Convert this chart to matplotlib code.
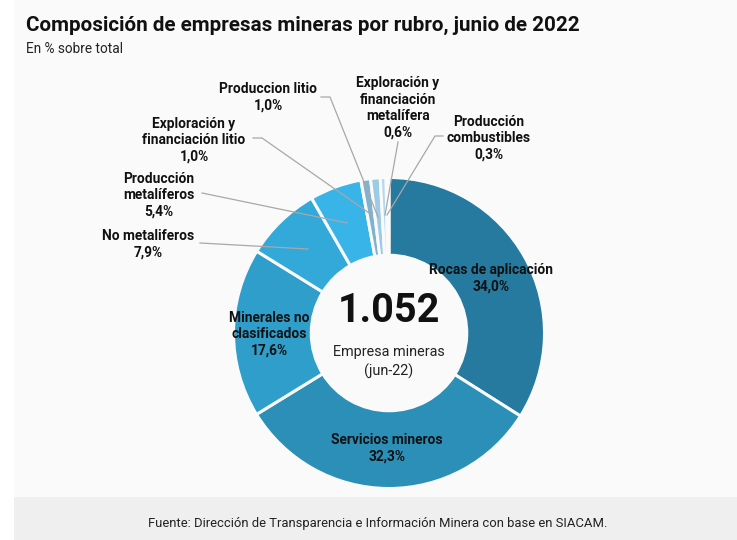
import matplotlib.pyplot as plt
from matplotlib.patches import Rectangle

plt.rcParams['font.family'] = ['Roboto', 'DejaVu Sans']

# ── Data ──
rubros = ['Rocas de aplicación', 'Servicios mineros', 'Minerales no\nclasificados',
          'No metaliferos', 'Producción\nmetalíferos', 'Produccion litio',
          'Exploración y\nfinanciación litio', 'Exploración y\nfinanciación\nmetalífera',
          'Producción\ncombustibles']
valores = [34.0, 32.3, 17.6, 7.9, 5.4, 1.0, 1.0, 0.6, 0.3]
etiquetas = ['34,0%', '32,3%', '17,6%', '7,9%', '5,4%', '1,0%', '1,0%', '0,6%', '0,3%']
colores = ['#26799f', '#2b8fb8', '#2f9ecb', '#33a9d9', '#38b4e8',
           '#7fb2d0', '#9ccbe6', '#b4d9ec', '#d3e8f2']

W, H = 737, 540
BG = '#fafafa'
DARK = '#111111'

fig = plt.figure(figsize=(W / 100, H / 100), dpi=100, facecolor='white')

# ── Background, pixel coords ──
bg = fig.add_axes([0, 0, 1, 1])
bg.set_xlim(0, W)
bg.set_ylim(H, 0)
bg.axis('off')
bg.add_patch(Rectangle((14, 0), W - 14, 497, color=BG, lw=0))
bg.add_patch(Rectangle((14, 497), W - 14, 43, color='#efefef', lw=0))

# ── Donut ──
cx, cy, r = 389, 333, 155.5
pie_ax = fig.add_axes([(cx - r) / W, (H - cy - r) / H, 2 * r / W, 2 * r / H])
pie_ax.pie(valores, colors=colores, startangle=90, counterclock=False, radius=1,
           wedgeprops=dict(width=0.5, edgecolor=BG, linewidth=2.2))
pie_ax.set_xlim(-1, 1)
pie_ax.set_ylim(-1, 1)
pie_ax.axis('off')
for w in pie_ax.patches:
    w.set_clip_on(False)

# ── Overlay for text and leader lines ──
ov = fig.add_axes([0, 0, 1, 1])
ov.set_xlim(0, W)
ov.set_ylim(H, 0)
ov.axis('off')
ov.patch.set_alpha(0)

leaders = [
    [(321, 97), (330, 97), (378, 217)],
    [(253, 138), (262, 138), (372, 215)],
    [(202, 193), (347, 223)],
    [(200, 243), (308, 249)],
    [(398, 142), (385, 215)],
    [(443, 136), (435, 136), (387, 215)],
]
for pts in leaders:
    ov.plot([p[0] for p in pts], [p[1] for p in pts], color='#a8a8a8', lw=0.9)

ov.text(26, 25, 'Composición de empresas mineras por rubro, junio de 2022',
        fontsize=14.9, fontweight='bold', color=DARK, va='center', ha='left')
ov.text(26, 49, 'En % sobre total', fontsize=9.8, color='#222222', va='center', ha='left')

posiciones = [(491, 278), (387, 448), (269, 334), (148, 244), (159, 195),
              (268, 97), (194, 140), (398, 108), (489, 138)]
for (x, y), nombre, pct in zip(posiciones, rubros, etiquetas):
    ov.text(x, y, nombre + '\n' + pct, fontsize=9.9, fontweight='bold', color=DARK,
            ha='center', va='center', linespacing=1.22)

ov.text(389, 311, '1.052', fontsize=28.5, fontweight='bold', color=DARK, ha='center', va='center')
ov.text(389, 362, 'Empresa mineras\n(jun-22)', fontsize=10.4, color='#222222', ha='center',
        va='center', linespacing=1.4)
ov.text(378, 523, 'Fuente: Dirección de Transparencia e Información Minera con base en SIACAM.',
        fontsize=9.35, color='#222222', ha='center', va='center')

fig.savefig('out.png', dpi=100)
